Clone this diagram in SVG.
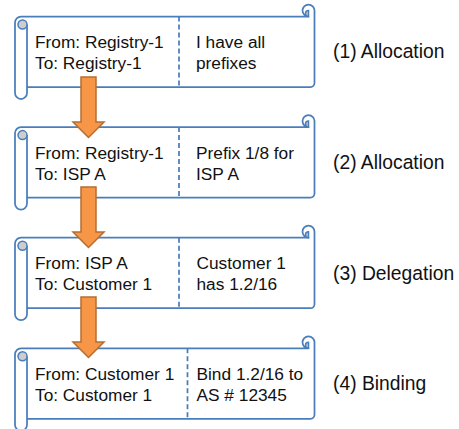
<svg xmlns="http://www.w3.org/2000/svg" xmlns:xlink="http://www.w3.org/1999/xlink" width="459" height="429" viewBox="0 0 459 429">
<style>
.fill{fill:#fff;stroke:none}
.out{fill:none;stroke:#4A7EBB;stroke-width:1.75;stroke-linejoin:round}
.curl{fill:#CDCDCD;stroke:#4A7EBB;stroke-width:1.5}
.div{stroke:#4A7EBB;stroke-width:1.75;stroke-dasharray:5 3}
.t{font-family:"Liberation Sans",Arial,sans-serif;font-size:17.3px;fill:#111}
.lbl{font-family:"Liberation Sans",Arial,sans-serif;font-size:19.3px;fill:#111}
.arr{fill:#F79646;stroke:#B66D31;stroke-width:1.5;stroke-linejoin:miter}
</style>
<defs>
<g id="scroll">
<path class="fill" d="M15,6 A6,6 0 0 1 21,0 L308.5,0 A6,6 0 1 1 314.5,-6 L314.5,66.5 A4,4 0 0 1 310.5,70.5 L27,70.5 L27,76.5 A6,6 0 0 1 15,76.5 Z"/>
<path class="out" d="M27,8 L27,76.5 A6,6 0 0 1 15,76.5 L15,6 A6,6 0 0 1 21,0 L308.5,0 A6,6 0 1 1 314.5,-6 L314.5,66.5 A4,4 0 0 1 310.5,70.5 L27,70.5"/>
<circle class="curl" cx="22.5" cy="8" r="4.5"/>
<path class="curl" d="M308.5,-6 A3,3 0 0 0 308.5,0 Z"/>
</g>
</defs>
<g id="node1" transform="translate(0,16.5)">
<use xlink:href="#scroll"/>
<line class="div" x1="179" y1="0" x2="179" y2="70.5"/>
<text class="t" x="35" y="31.5">From: Registry-1</text>
<text class="t" x="35" y="52.5">To: Registry-1</text>
<text class="t" x="196" y="31.5">I have all</text>
<text class="t" x="196" y="52.5">prefixes</text>
</g>
<g id="node2" transform="translate(0,127.1)">
<use xlink:href="#scroll"/>
<line class="div" x1="179" y1="0" x2="179" y2="70.5"/>
<text class="t" x="35" y="31.5">From: Registry-1</text>
<text class="t" x="35" y="52.5">To: ISP A</text>
<text class="t" x="196" y="31.5">Prefix 1/8 for</text>
<text class="t" x="196" y="52.5">ISP A</text>
</g>
<g id="node3" transform="translate(0,237.7)">
<use xlink:href="#scroll"/>
<line class="div" x1="179" y1="0" x2="179" y2="70.5"/>
<text class="t" x="35" y="31.5">From: ISP A</text>
<text class="t" x="35" y="52.5">To: Customer 1</text>
<text class="t" x="196.5" y="31.5">Customer 1</text>
<text class="t" x="196.5" y="52.5">has 1.2/16</text>
</g>
<g id="node4" transform="translate(0,348.3)">
<use xlink:href="#scroll"/>
<line class="div" x1="187.5" y1="0" x2="187.5" y2="70.5"/>
<text class="t" x="35" y="31.5">From: Customer 1</text>
<text class="t" x="35" y="52.5">To: Customer 1</text>
<text class="t" x="196.5" y="31.5">Bind 1.2/16 to</text>
<text class="t" x="196.5" y="52.5">AS # 12345</text>
</g>
<g id="labels">
<text class="lbl" x="333" y="58.3">(1) Allocation</text>
<text class="lbl" x="333" y="168.9">(2) Allocation</text>
<text class="lbl" x="333" y="279.5">(3) Delegation</text>
<text class="lbl" x="333" y="390.1">(4) Binding</text>
</g>
<g id="connectors">
<path class="arr" d="M81,77 L96,77 L96,122 L104,122 L88.5,137.5 L73,122 L81,122 Z"/>
<path class="arr" d="M81,187 L96,187 L96,232 L104,232 L88.5,247.5 L73,232 L81,232 Z"/>
<path class="arr" d="M81,297 L96,297 L96,342 L104,342 L88.5,357.5 L73,342 L81,342 Z"/>
</g>
</svg>
